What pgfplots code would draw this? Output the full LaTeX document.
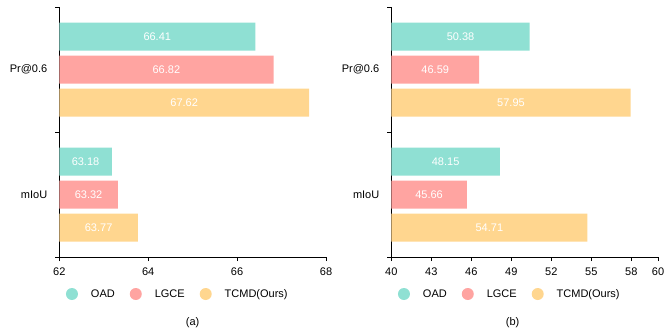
\documentclass[border=0pt]{standalone}
\usepackage{pgfplots}
\pgfplotsset{compat=1.18}
\usepackage{pgfplotstable}
\usepackage{fontspec}
\setmainfont{Liberation Sans}
\definecolor{cOAD}{HTML}{8FE0D3}
\definecolor{cLGCE}{HTML}{FFA4A1}
\definecolor{cTCMD}{HTML}{FFD68F}
\newcommand{\fs}{\fontsize{11bp}{13bp}\selectfont}

\pgfplotstableread{
cat oad lgce tcmd
0 66.41 66.82 67.62
1 63.18 63.32 63.77
}\dataA
\pgfplotstableread{
cat oad lgce tcmd
0 50.38 46.59 57.95
1 48.15 45.66 54.71
}\dataB

\pgfplotsset{
  mystyle/.style={
    scale only axis, width=266.7bp, height=250bp,
    anchor=north west,
    axis lines=left, axis line style={black, line width=0.8bp, -},
    ymin=-0.5, ymax=1.5, y dir=reverse,
    tick align=outside, major tick length=4bp,
    ytick={-0.5,0.5,1.5}, yticklabels={},
    extra y ticks={0,1}, extra y tick labels={Pr@0.6,mIoU},
    extra y tick style={major tick length=0pt},
    tick style={black, line width=0.8bp},
    ticklabel style={font=\fs},
    xticklabel style={yshift=-3bp},
    yticklabel style={xshift=-8.5bp},
    /pgf/number format/assume math mode=true,
    legend style={draw=none, fill=none, at={(axis description cs:0.025,-0.148)}, anchor=west,
      inner sep=0pt, outer sep=0pt, font=\fs,
      /tikz/every odd column/.append style={column sep=11bp},
      /tikz/every even column/.append style={column sep=13bp}},
    legend columns=3, legend cell align=left,
    legend image code/.code={\fill[##1] (6bp,0bp) circle (6bp);},
    xlabel style={at={(axis description cs:0.5,-0.264)}, anchor=center, font=\fs},
  },
  bars/.style n args={2}{xbar, fill=#1, draw=none, bar width=0.224, bar shift=#2},
  lbl/.style n args={2}{forget plot, only marks, mark=none, point meta=rawx,
    x filter/.expression={(x+#2)/2}, y filter/.expression={y+(#1)},
    nodes near coords, nodes near coords style={anchor=center, text=white, font=\fs},
    /pgf/number format/fixed, /pgf/number format/fixed zerofill, /pgf/number format/precision=2},
}

\begin{document}
\begin{tikzpicture}
\path[use as bounding box] (0,0) rectangle (664bp,-333bp);
\begin{axis}[mystyle, at={(59.3bp,-7bp)}, xmin=62, xmax=68, xtick={62,64,66,68}, xlabel={(a)}]
\addplot[bars={cOAD}{-0.264}] table[x=oad, y=cat] {\dataA};
\addplot[bars={cLGCE}{0}] table[x=lgce, y=cat] {\dataA};
\addplot[bars={cTCMD}{0.264}] table[x=tcmd, y=cat] {\dataA};
\legend{OAD, LGCE, TCMD(Ours)}
\addplot[lbl={-0.264}{62}] table[x=oad, y=cat] {\dataA};
\addplot[lbl={0}{62}] table[x=lgce, y=cat] {\dataA};
\addplot[lbl={0.264}{62}] table[x=tcmd, y=cat] {\dataA};
\end{axis}
\begin{axis}[mystyle, at={(391.3bp,-7bp)}, xmin=40, xmax=60, xtick={40,43,46,49,52,55,58,60}, xlabel={(b)},
  xlabel style={at={(axis description cs:0.455,-0.264)}}]
\addplot[bars={cOAD}{-0.264}] table[x=oad, y=cat] {\dataB};
\addplot[bars={cLGCE}{0}] table[x=lgce, y=cat] {\dataB};
\addplot[bars={cTCMD}{0.264}] table[x=tcmd, y=cat] {\dataB};
\legend{OAD, LGCE, TCMD(Ours)}
\addplot[lbl={-0.264}{40}] table[x=oad, y=cat] {\dataB};
\addplot[lbl={0}{40}] table[x=lgce, y=cat] {\dataB};
\addplot[lbl={0.264}{40}] table[x=tcmd, y=cat] {\dataB};
\end{axis}
\end{tikzpicture}
\end{document}
